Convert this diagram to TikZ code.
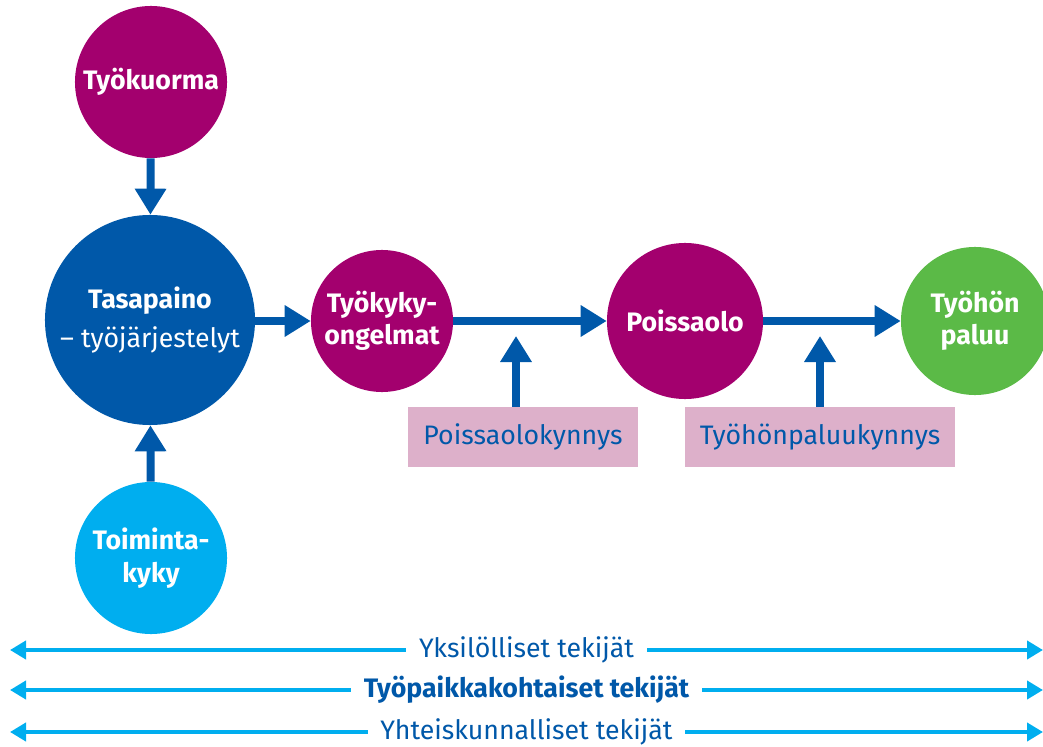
\documentclass[tikz,border=0pt]{standalone}
\usepackage{fontspec}
\setmainfont{Fira Sans}
\usetikzlibrary{arrows.meta, positioning}
\definecolor{tkMagenta}{HTML}{A3006E}
\definecolor{tkBlue}{HTML}{0058A9}
\definecolor{tkLight}{HTML}{00AEEF}
\definecolor{tkGreen}{HTML}{5BBA47}
\definecolor{tkPink}{HTML}{DDB0CA}
\tikzset{
    font=\fontsize{19}{23}\selectfont,
    % Circles
    ball/.style={circle, text=white, align=center, inner sep=0pt, font=\fontsize{19}{23}\selectfont\bfseries},
    ballMag/.style={ball, fill=tkMagenta},
    % Threshold boxes
    limit/.style={rectangle, fill=tkPink, text=tkBlue, minimum width=5.75cm, minimum height=1.5cm, align=center},
    % Flow & factors
    flow/.style={-{Triangle[width=0.75cm, length=0.65cm]}, line width=0.2cm, tkBlue},
    factor/.style={{Triangle[width=0.45cm, length=0.4cm]}-{Triangle[width=0.45cm, length=0.4cm]}, line width=0.1cm, tkLight},
    factorlbl/.style={fill=white, text=tkBlue, inner xsep=9pt, inner ysep=3pt}
}

\begin{document}
\begin{tikzpicture}[x=0.025cm, y=-0.025cm]
\useasboundingbox (0,0) rectangle (1043,747);

\node[ballMag, minimum size=3.8cm] (load) at (151,82) {Työkuorma};
\node[ball, fill=tkBlue, minimum size=5.25cm] (balance) at (150,320) {Tasapaino\\[5pt]\mdseries – työjärjestelyt};
\node[ball, fill=tkLight, minimum size=3.8cm] (ability) at (151,558) {Toiminta-\\kyky};
\node[ballMag, minimum size=3.55cm] (problems) at (382,321) {Työkyky-\\ongelmat};
\node[ballMag, minimum size=3.9cm] (absence) at (685,321) {Poissaolo};
\node[ball, fill=tkGreen, minimum size=3.7cm] (back) at (975,321) {Työhön\\paluu};

\node[limit, minimum width=5.75cm] (absLimit) at (523,437) {Poissaolokynnys};
\node[limit, minimum width=6.73cm] (backLimit) at (820,437) {Työhönpaluukynnys};
\coordinate (absTip) at (516,336);
\coordinate (backTip) at (820,336);

\draw[flow] (load) -- (balance);
\draw[flow] (ability) -- (balance);
\draw[flow] (balance.east |- problems) -- (problems);
\draw[flow] (problems) -- (absence);
\draw[flow] (absence) -- (back);
\draw[flow] (absLimit.north -| absTip) -- (absTip);
\draw[flow] (backLimit.north -| backTip) -- (backTip);

% Factors
\coordinate (indL) at (10,650);
\coordinate (indR) at (1043,650);
\coordinate (workL) at (10,690);
\coordinate (workR) at (1043,690);
\coordinate (socL) at (10,732);
\coordinate (socR) at (1043,732);
\draw[factor] (indL) -- (indR) node[midway, factorlbl] {Yksilölliset tekijät};
\draw[factor] (workL) -- (workR) node[midway, factorlbl, font=\fontsize{19}{23}\selectfont\bfseries] {Työpaikkakohtaiset tekijät};
\draw[factor] (socL) -- (socR) node[midway, factorlbl] {Yhteiskunnalliset tekijät};

\end{tikzpicture}
\end{document}
